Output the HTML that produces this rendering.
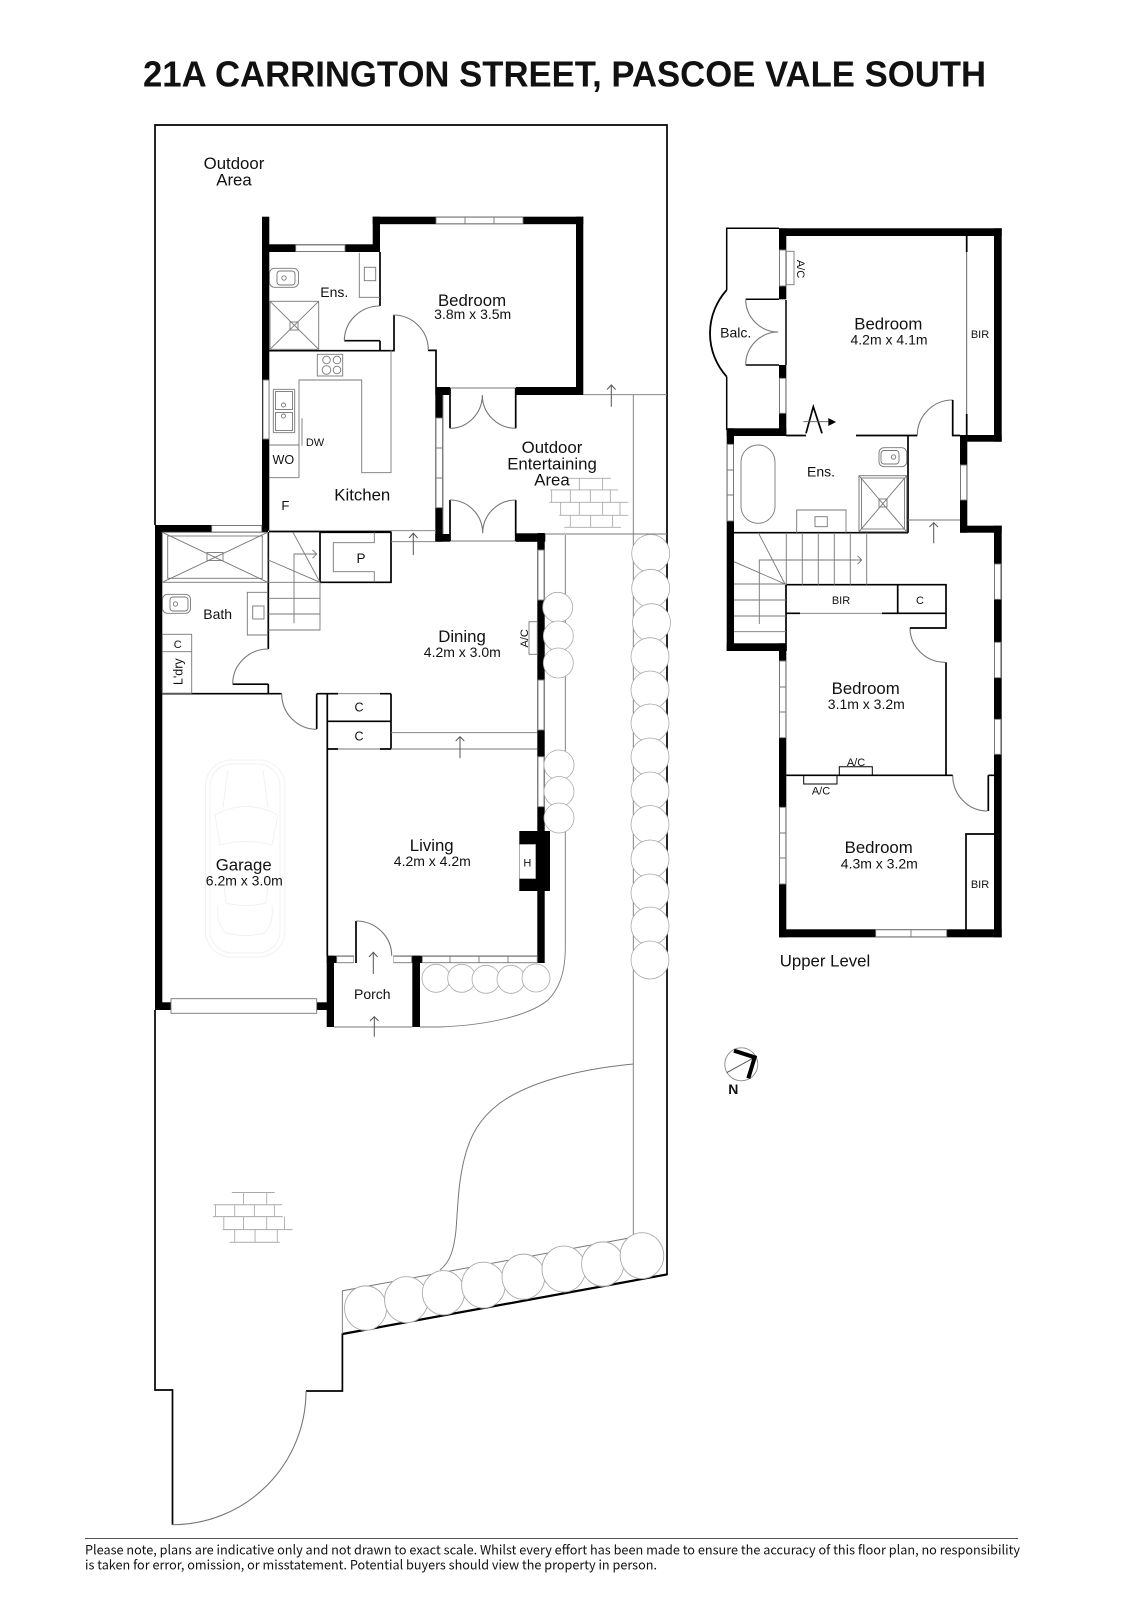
<!DOCTYPE html>
<html><head><meta charset="utf-8"><style>
html,body{margin:0;padding:0;background:#fff}
svg{display:block}
text{font-family:"Liberation Sans",sans-serif;fill:#111;text-anchor:middle}
.l{font-size:16.8px}.d{font-size:14px}.s{font-size:14px}.x{font-size:11px}
.w{fill:#000;stroke:none}
.t{fill:none;stroke:#000;stroke-width:1.7}
.g{fill:none;stroke:#777;stroke-width:.9}
.n{fill:#fff;stroke:#777;stroke-width:.9}
.b{fill:#fff;stroke:#aaa;stroke-width:.8}
.c{fill:none;stroke:#f1f1f1;stroke-width:1}
</style></head><body>
<svg width="1131" height="1600" viewBox="0 0 1131 1600" xmlns="http://www.w3.org/2000/svg">
<rect width="1131" height="1600" fill="#fff"/>
<text x="564.5" y="86.5" style="font-size:36px;font-weight:bold" textLength="843" lengthAdjust="spacingAndGlyphs">21A CARRINGTON STREET, PASCOE VALE SOUTH</text>

<!-- site outline -->
<path class="t" d="M155 525V125H667V1274.4L342.4 1334V1391H306"/>
<path class="t" d="M155 1010V1390H172.5V1524.7"/>
<path class="g" style="stroke-width:1.1" d="M172.5 1524.7A133.5 133.7 0 0 0 306 1391"/>
<path fill="none" stroke="#000" stroke-width="2.2" d="M342.4 1334L667 1274.4"/>

<!-- garden lines -->
<path class="g" d="M583 394.7H667M516 534H667M633.3 394.7V1235.4M565.3 535V950C565 975 558 990 548 1000C530 1015 490 1025 440 1027H420"/>
<path class="g" style="stroke-width:1" d="M633.3 1064C570 1070 525 1085 500 1103C480 1118 470 1135 464 1160C458 1185 458 1205 456 1230C454 1250 450 1262 440 1270"/>
<g transform="translate(130 1000) scale(.3636 .3827)">
<path fill="none" stroke="#777" stroke-width="2.6" d="M584 873V760L1384 620"/>
<g class="b" style="stroke-width:2.4">
<circle cx="648" cy="805" r="58"/><circle cx="760" cy="783" r="60"/><circle cx="862" cy="765" r="58"/><circle cx="972" cy="745" r="60"/><circle cx="1082" cy="723" r="59"/><circle cx="1193" cy="703" r="60"/><circle cx="1300" cy="690" r="58"/><circle cx="1408" cy="668" r="60"/>
</g>
<path fill="none" stroke="#aaa" stroke-width="2.4" d="M280 503H398M230 535H418M228 566H420M255 600H447M275 633H412M312 503V535M376 503V535M235 535V566M288 535V566M342 535V566M397 535V566M258 566V600M312 566V600M376 566V600M425 566V600M288 600V633M344 600V633M405 600V633"/>
</g>
<g transform="translate(430 370) scale(.3333)">
<path fill="none" stroke="#aaa" stroke-width="2.6" d="M410 325H543M360 360H565M358 397H595M388 436H595M403 472H573M448 325V360M518 325V360M365 360V397M421 360V397M481 360V397M541 360V397M392 397V436M448 397V436M518 397V436M570 397V436M421 436V472M482 436V472M548 436V472"/>
</g>

<!-- ground level walls -->
<g class="w">
<rect x="262" y="216.7" width="7.3" height="314"/>
<rect x="262" y="244.3" width="118" height="7.7"/>
<rect x="372.7" y="216.7" width="7.3" height="35"/>
<rect x="372.7" y="216.7" width="210.6" height="7.5"/>
<rect x="576" y="216.7" width="7.3" height="178"/>
<rect x="435.3" y="387" width="147.7" height="8"/>
<rect x="435.3" y="387" width="7.4" height="154.7"/>
<rect x="435.3" y="534" width="110" height="7.7"/>
<rect x="516" y="533.3" width="29" height="8.4"/>
<rect x="537.3" y="533" width="7.4" height="430"/>
<rect x="155" y="525" width="113" height="7.3"/>
<rect x="155" y="525" width="7.3" height="485"/>
<rect x="155" y="1002.3" width="172" height="7.7"/>
<rect x="326.7" y="955.7" width="211" height="7.3"/>
<rect x="326.7" y="955.7" width="7.3" height="71.3"/>
<rect x="412.3" y="955.7" width="7.7" height="71.3"/>
<rect x="519.3" y="831" width="30.7" height="60"/>
</g>
<rect x="519.3" y="844.3" width="16.4" height="34.4" fill="#fff" stroke="#777" stroke-width=".6"/>
<!-- white gaps / windows ground -->
<g class="n">
<rect x="263" y="380" width="6" height="59"/>
<rect x="295.7" y="245" width="49.3" height="6.5"/>
<rect x="436" y="217.2" width="87" height="6.5"/>
<path d="M465 217V224M494 217V224"/>
<rect x="436" y="418" width="6.5" height="89.7"/>
<path d="M436 448H442.5M436 478H442.5"/>
<rect x="211.7" y="525.5" width="50" height="6.5"/>
<rect x="538" y="550" width="6" height="50"/>
<rect x="538" y="680" width="6" height="50"/>
<rect x="538" y="756.7" width="6" height="50"/>
<rect x="171" y="998.7" width="145.7" height="14.6"/>
<rect x="336.7" y="956.3" width="17.3" height="6.4"/>
<rect x="393.3" y="956.3" width="18.4" height="6.4"/>
<rect x="422.3" y="956.3" width="115" height="6.4"/>
<path d="M450 956V963M479 956V963M508 956V963"/>
</g>
<rect x="354" y="955" width="39.3" height="9" fill="#fff"/>
<rect x="450" y="386" width="65.7" height="10" fill="#fff"/>
<rect x="450" y="533" width="65.7" height="9.5" fill="#fff"/>
<rect x="443" y="395" width="7" height="139" fill="#fff"/>
<rect x="450" y="386.5" width="65.7" height="2" fill="#fff"/>
<path class="g" d="M443 395V534M450 388H515.7M450 541H515.7M334 1027H412.3"/>

<!-- bushes on top of walls -->
<g class="b">
<circle cx="650.7" cy="553.5" r="19"/><circle cx="650.7" cy="588.3" r="19"/><circle cx="651.5" cy="622.7" r="19"/><circle cx="650" cy="656.7" r="19"/><circle cx="650" cy="690" r="19"/><circle cx="650" cy="723" r="19"/><circle cx="650" cy="757" r="19"/><circle cx="650" cy="791" r="19"/><circle cx="650" cy="824.5" r="19"/><circle cx="650" cy="859" r="19"/><circle cx="650" cy="893" r="19"/><circle cx="650" cy="926" r="19"/><circle cx="650" cy="960" r="19"/>
<circle cx="557.7" cy="607.3" r="15"/><circle cx="558.3" cy="636" r="15"/><circle cx="558.3" cy="663" r="15"/>
<circle cx="559" cy="765" r="15"/><circle cx="559" cy="791.5" r="15"/><circle cx="559" cy="818" r="15"/>
<circle cx="436" cy="978.3" r="14"/><circle cx="461.7" cy="978.3" r="14"/><circle cx="486" cy="979.3" r="14"/><circle cx="511" cy="979.3" r="14"/><circle cx="536" cy="978" r="14"/>
</g>

<!-- ground thin walls and doors -->
<path class="t" d="M269 350.7H394V315M380 252V306M380 340.7V350.7M344.3 340.7H380M428 350.4H436V387"/>
<path class="t" d="M269 531.5H391M320 532V582.3M320 532.3H391V582.3H320"/>
<path class="t" d="M268.3 532V649M268.3 684V693.7M232.7 684.2H268.3M162 693.7H281.7M316.7 693.7V729M316.7 693.7H327.3M327.3 693.7V956M327.3 721.3H391M391 693.7V749M380 693.7H391M380 749H391M327 693.7H338M327 749H338M356 921V963"/>
<path class="t" d="M450 388.3V428.3M515.7 388.3V428.3M450 500V541M515.7 500V541"/>
<path class="g" style="stroke-width:1.1" d="M393.3 315A35 35 0 0 1 428.3 350M380 306A35.5 35 0 0 0 344.3 340.7M450 428.3A32.5 33.3 0 0 0 482.3 395M515.7 428.3A33.4 33.3 0 0 1 482.3 395M450 500A32.7 33.3 0 0 1 482.7 533.3M515.7 500A33 33.3 0 0 0 482.7 533.3M268.3 649A35.6 35 0 0 0 232.7 684M281.7 693.7A35 35.6 0 0 0 316.7 729.3M356 921A35.7 34.7 0 0 1 391.7 955.7"/>
<path class="g" d="M338 693.7H380M338 749H380M391 732.7H537.3M391 749H537.3M391 530.7H436M391 541.7H436"/>

<!-- arrows ground -->
<path fill="none" stroke="#555" stroke-width="1" d="M413.3 555V533.3M409 538L413.3 533.3L417.6 538M460 758.3V736.7M455.7 741L460 736.7L464.3 741M374.3 1036.7V1016.7M370 1021L374.3 1016.7L378.6 1021M373.3 974V952.3M369 957L373.3 952.3L377.6 957M611.3 406.7V385M607 389.5L611.3 385L615.6 389.5"/>

<!-- Ensuite ground fixtures -->
<g class="g">
<rect x="270" y="301.3" width="48.7" height="48"/><path d="M270 301.3L318.7 349.3M318.7 301.3L270 349.3"/><rect x="290" y="322" width="8" height="8"/>
<rect x="269.5" y="268.3" width="29" height="19" rx="5"/><rect x="277" y="271" width="18" height="14" rx="3"/><circle cx="284" cy="278" r="2.2"/>
<path d="M359.3 252.7V297.3H380"/><rect x="364.3" y="267.3" width="11.4" height="13.4"/>
<rect x="317.3" y="354.3" width="25.4" height="21.7"/><circle cx="326.5" cy="360" r="3.8"/><circle cx="337" cy="360" r="3.8"/><circle cx="326.5" cy="370" r="4.3"/><circle cx="337" cy="370" r="3.8"/>
<path d="M299 477.7V380H361.7V472.7H391V350M269 445H299M269 477.7H299M302 418.3V445.7"/>
<rect x="273.3" y="389.3" width="21.4" height="43.4" rx="1"/><rect x="275.5" y="391.5" width="17" height="18"/><rect x="275.5" y="412.5" width="17" height="18"/><circle cx="283.5" cy="405" r="2"/><circle cx="283.5" cy="416" r="2"/>
</g>
<!-- bath ground -->
<g class="g">
<rect x="162.3" y="532.3" width="105.4" height="50"/><rect x="167.7" y="536" width="94.6" height="42.3"/><path d="M162.3 532.3L267.7 582.3M267.7 532.3L162.3 582.3"/><rect x="207" y="552.5" width="16" height="8"/>
<rect x="162.5" y="594.3" width="28" height="19" rx="5"/><rect x="170" y="597" width="18" height="14" rx="3"/><circle cx="175.5" cy="604" r="2.2"/>
<path d="M268 592.3H247.3V635H268"/><rect x="252.7" y="606" width="11.3" height="13"/>
<rect x="162.3" y="634.3" width="29.4" height="59"/><path d="M162.3 651.7H191.7"/>
<path d="M268.3 582.3H320M268.3 598.3H320M268.3 614H320M268.3 630H320V582M293 532.3L320 582.3M268.3 560L320 582.3M294 623.3V554H316.7M312.5 549.8L316.7 554L312.5 558.2"/>
<path d="M374.3 532.3V542.7H333.3V571.7H374.3V582.3"/>
<rect x="529" y="621.7" width="8.3" height="32.6" fill="#fff"/>
</g>

<!-- car -->
<g class="c">
<rect x="205.5" y="760" width="79.5" height="197" rx="26"/>
<rect x="210" y="764" width="70" height="189" rx="22"/>
<path d="M223 807L228 770M268 807L263 770M215 815Q246 798 278 815L272 845Q246 838 220 845ZM224 885L226 903Q246 908 266 903L268 885M218 905Q216 925 226 933Q246 938 264 933Q274 925 272 905"/>
</g>

<!-- upper level -->
<path class="t" style="stroke-width:1.5" d="M726.7 290V228.3H779M726.7 376.7V430"/>
<path fill="none" stroke="#000" stroke-width="1.8" d="M726.7 290A64.6 64.6 0 0 0 726.7 376.7"/>
<g class="w">
<rect x="779" y="228.3" width="222.7" height="7.7"/>
<rect x="994" y="228.3" width="7.7" height="213.4"/>
<rect x="960" y="435" width="41.7" height="6.7"/>
<rect x="779" y="228.3" width="7.3" height="71"/>
<rect x="779" y="365" width="7.3" height="71"/>
<rect x="726.7" y="428.3" width="59.6" height="7.7"/>
<rect x="726.7" y="428.3" width="7.3" height="222.7"/>
<rect x="726.7" y="643.3" width="59.6" height="7.7"/>
<rect x="960" y="435" width="7.3" height="97.7"/>
<rect x="960" y="525.7" width="41.7" height="7"/>
<rect x="994" y="525.7" width="7.7" height="411.6"/>
<rect x="779" y="643.3" width="7.3" height="294"/>
<rect x="779" y="929.3" width="222.7" height="8"/>
</g>
<g class="n">
<rect x="779.5" y="250" width="6.3" height="36"/>
<rect x="779.5" y="378.3" width="6.3" height="35"/>
<rect x="727.2" y="444.3" width="6.3" height="76.7"/><path d="M727 470H734M727 495H734"/>
<rect x="960.5" y="465" width="6.3" height="35"/>
<rect x="994.5" y="564" width="6.3" height="35.3"/>
<rect x="994.5" y="642.3" width="6.3" height="35.4"/>
<rect x="994.5" y="719.3" width="6.3" height="35"/>
<rect x="779.5" y="661" width="6.3" height="76.7"/><path d="M779 687H786M779 712H786"/>
<rect x="779.5" y="807.3" width="6.3" height="76.7"/><path d="M779 833H786M779 858H786"/>
<rect x="875.7" y="929.8" width="71" height="7"/><path d="M911 930V937"/>
<rect x="786.3" y="251.3" width="7.7" height="33.4"/>
</g>
<rect x="745.7" y="300" width="40.6" height="64.5" fill="#fff"/>
<path class="t" style="stroke-width:1.5" d="M745.7 299.3H779M745.7 365H779M786 300V365"/>
<path class="g" style="stroke-width:1.1" d="M745.7 299.3A32.6 32.7 0 0 0 778.3 332M745.7 365A32.6 33 0 0 1 778.3 332M952.7 400A35.4 35.3 0 0 0 917.3 435.3M910 627.7A35 34.6 0 0 0 945 662.3M952.7 775.3A34.6 35.7 0 0 0 987.3 811"/>
<path class="g" style="stroke:#555" d="M966.7 236V434M966 880V930"/>
<path class="t" d="M966.7 236V252M966.7 414V435M786 435.5H806M856 435.5H917.3M952.7 400V435.5H960M908 435V532.7M734 532.7H908"/>
<path class="t" d="M806 433.3L813.3 406.7L822 433.3"/>
<path fill="none" stroke="#555" stroke-width=".9" d="M803.3 421.7H828.3"/><path d="M828.3 418L836 422L828.3 426Z" fill="#000"/>
<path class="t" d="M786 584.7H946V628H910M786 584.7V651M786 613.3H800M882 613.3H946M897.7 584.7V613.3M946 662.3V775.3M786.3 775.3H952.7M988.3 775.3V811M988.3 775.3H994M966 930V834H994"/>
<path class="g" d="M800 613.3H882M908 520H960M859 475.7V531.7M786.3 532.7V584.7M802.3 532.7V584.7M818.3 532.7V584.7M834.3 532.7V584.7M850.3 532.7V584.7M866.7 532.7V584.7M734 584H786M734 600H786M734 616H786M734 631.7H786M758.3 532.7L785 584M734 561.7L785 584M759.3 624V560H861.7M857.5 555.8L861.7 560L857.5 564.2"/>
<g class="g">
<rect x="741" y="445" width="34" height="78.3" rx="17"/>
<rect x="879" y="447.7" width="27.7" height="19" rx="5"/><rect x="881" y="450.5" width="18" height="13.5" rx="3"/><circle cx="893.5" cy="457" r="2.2"/>
<rect x="859" y="475.7" width="47.7" height="56"/><rect x="861.5" y="478" width="43" height="51"/><path d="M859 475.7L906.7 531.7M906.7 475.7L859 531.7"/><rect x="879" y="499" width="8" height="8"/>
<path d="M796.7 532.7V510H846V532.7"/><rect x="815" y="516.7" width="12.3" height="10"/>
</g>
<path fill="none" stroke="#555" stroke-width="1" d="M933.7 543.3V522.7M929.4 527L933.7 522.7L938 527"/>
<path class="t" style="stroke-width:1" d="M839.3 775V766.7H872.3V775M803.7 776V784H837V776"/>

<!-- compass -->
<circle cx="741.3" cy="1064.3" r="16.5" fill="#fff" stroke="#888" stroke-width=".9"/>
<path d="M726.7 1072.7L754.7 1057.3" stroke="#555" stroke-width=".9" fill="none"/>
<path d="M734 1050.7L754.7 1057.3L748.3 1078.3" stroke="#000" stroke-width="4" fill="none"/>
<text x="733.3" y="1094" style="font-size:14px;font-weight:bold">N</text>

<!-- labels -->
<text class="l" x="234" y="169">Outdoor</text><text class="l" x="234" y="185.5">Area</text>
<text class="l" x="472" y="306">Bedroom</text><text class="d" x="472.7" y="319">3.8m x 3.5m</text>
<text class="s" x="334.3" y="297">Ens.</text>
<text class="l" x="362.3" y="500.5">Kitchen</text>
<text class="x" x="315" y="446">DW</text>
<text style="font-size:12.6px" x="283.3" y="464">WO</text>
<text style="font-size:13px" x="285.3" y="510">F</text>
<text class="l" x="552" y="453">Outdoor</text><text class="l" x="552" y="469.5">Entertaining</text><text class="l" x="552" y="485.5">Area</text>
<text style="font-size:13.5px" x="361" y="563">P</text>
<text class="s" x="217.7" y="619">Bath</text>
<text class="x" x="177.7" y="648">C</text>
<text style="font-size:12.5px" transform="translate(182.5 671.7) rotate(-90)">L'dry</text>
<text class="l" x="462" y="642">Dining</text><text class="d" x="462.3" y="657">4.2m x 3.0m</text>
<text class="x" transform="translate(528 638.3) rotate(-90)">A/C</text>
<text style="font-size:12.5px" x="359" y="711.5">C</text><text style="font-size:12.5px" x="359" y="740.5">C</text>
<text class="l" x="431.7" y="851">Living</text><text class="d" x="432.3" y="866">4.2m x 4.2m</text>
<text class="l" x="243.7" y="870.5">Garage</text><text class="d" x="244.3" y="885.5">6.2m x 3.0m</text>
<text style="font-size:11px" x="527.3" y="866.5">H</text>
<text class="s" x="372.3" y="999">Porch</text>

<text class="l" x="888.3" y="329.5">Bedroom</text><text class="d" x="889" y="344.5">4.2m x 4.1m</text>
<text class="x" transform="translate(797 269) rotate(90)">A/C</text>
<text class="x" x="980" y="338">BIR</text>
<text style="font-size:14px" x="735.7" y="337.5">Balc.</text>
<text class="s" x="821" y="476.5">Ens.</text>
<text class="x" x="841" y="604">BIR</text><text class="x" x="920" y="604">C</text>
<text class="l" x="865.7" y="694">Bedroom</text><text class="d" x="866.3" y="709">3.1m x 3.2m</text>
<text class="x" x="856" y="766">A/C</text><text class="x" x="821" y="794.5">A/C</text>
<text class="l" x="878.7" y="853">Bedroom</text><text class="d" x="879.3" y="868.5">4.3m x 3.2m</text>
<text class="x" x="980" y="888">BIR</text>
<text class="l" x="825" y="966.5">Upper Level</text>

<!-- footer -->
<path d="M85 1538.5H1018" stroke="#555" stroke-width="1"/>
<text x="85" y="1554.5" style="text-anchor:start;font-size:13px;font-family:'Noto Sans CJK SC','Liberation Sans',sans-serif" textLength="935" lengthAdjust="spacingAndGlyphs">Please note, plans are indicative only and not drawn to exact scale. Whilst every effort has been made to ensure the accuracy of this floor plan, no responsibility</text>
<text x="85" y="1569.5" style="text-anchor:start;font-size:13px;font-family:'Noto Sans CJK SC','Liberation Sans',sans-serif" textLength="572" lengthAdjust="spacingAndGlyphs">is taken for error, omission, or misstatement. Potential buyers should view the property in person.</text>
</svg>
</body></html>
